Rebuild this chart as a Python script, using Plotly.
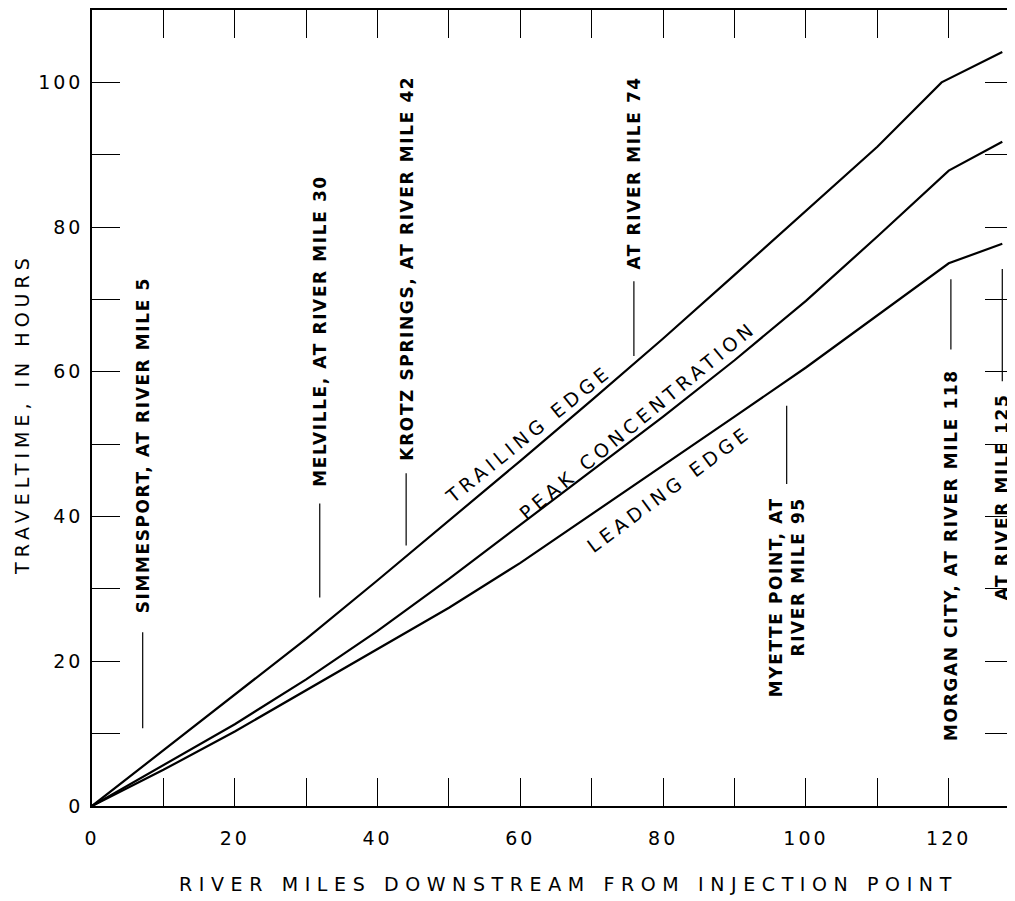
import plotly.graph_objects as go

# ---- data ----
trail_x = [0, 10, 20, 30, 40, 50, 60, 70, 76, 80, 90, 100, 110, 119, 127.5]
trail_y = [0, 7.7, 15.3, 23.1, 31.2, 39.4, 47.7, 56.1, 61.2, 64.6, 73.4, 82.3, 91.1, 100, 104.2]

peak_x = [0, 10, 20, 30, 40, 50, 60, 70, 80, 90, 100, 110, 120, 127.5]
peak_y = [0, 5.6, 11.3, 17.5, 24.2, 31.4, 38.9, 46.3, 53.8, 61.6, 69.8, 78.7, 87.8, 91.8]

lead_x = [0, 10, 20, 30, 40, 50, 60, 70, 80, 90, 100, 110, 120, 127.5]
lead_y = [0, 5.0, 10.3, 16.0, 21.7, 27.4, 33.6, 40.3, 47.0, 53.8, 60.6, 67.8, 75.0, 77.7]

station_names = [
    "SIMMESPORT, AT RIVER MILE 5",
    "MELVILLE, AT RIVER MILE 30",
    "KROTZ SPRINGS, AT RIVER MILE 42",
    "AT RIVER MILE 74",
    "MYETTE POINT, AT<br>RIVER MILE 95",
    "MORGAN CITY, AT RIVER MILE 118",
    "AT RIVER MILE 125",
]
station_x = [7.1, 31.9, 44.0, 75.9, 97.3, 120.3, 127.5]

x_ticks = list(range(0, 130, 10))
y_ticks = list(range(0, 110, 10))

x_title = "RIVER MILES DOWNSTREAM FROM INJECTION POINT"
y_title = "TRAVELTIME, IN HOURS"
curve_names = ["TRAILING EDGE", "PEAK CONCENTRATION", "LEADING EDGE"]

# ---- layout helpers (placement only) ----
leader_lo = [10.75, 28.8, 36.0, 62.2, 44.5, 63.1, 58.7]
leader_hi = [24.0, 41.8, 46.0, 72.5, 55.3, 72.8, 74.2]
label_y = [26.3, 43.8, 47.4, 73.9, 42.9, 8.7, 28.1]
label_anchor = ["bottom", "bottom", "bottom", "bottom", "top", "bottom", "bottom"]

curve_label_pos = [(61.1, 51.4, -39), (76.5, 53.3, -39.5), (80.8, 43.8, -36.5)]

FONT = "DejaVu Sans, Verdana, sans-serif"


def spaced(t, px):
    return f'<span style="letter-spacing:{px}px">{t}</span>'


fig = go.Figure()
for xs, ys in [(trail_x, trail_y), (peak_x, peak_y), (lead_x, lead_y)]:
    fig.add_trace(go.Scatter(x=xs, y=ys, mode="lines",
                             line=dict(color="black", width=2.2),
                             showlegend=False, hoverinfo="skip"))

for sx, lo, hi in zip(station_x, leader_lo, leader_hi):
    fig.add_trace(go.Scatter(x=[sx, sx], y=[lo, hi], mode="lines",
                             line=dict(color="black", width=1.2),
                             showlegend=False, hoverinfo="skip"))

annotations = []
for name, sx, ly, anc in zip(station_names, station_x, label_y, label_anchor):
    annotations.append(dict(
        x=sx, y=ly, xref="x", yref="y", text=spaced(name, 1.6),
        showarrow=False, textangle=-90, xanchor="center", yanchor=anc,
        align="right",
        font=dict(family=FONT, size=17, color="black", weight="bold"),
    ))

for name, (cx, cy, ang) in zip(curve_names, curve_label_pos):
    annotations.append(dict(
        x=cx, y=cy, xref="x", yref="y", text=spaced(name, 4.5),
        showarrow=False, textangle=ang, xanchor="center", yanchor="middle",
        font=dict(family=FONT, size=19, color="black"),
    ))

annotations.append(dict(
    x=0.517, y=-0.0977, xref="paper", yref="paper", text=spaced(x_title, 6.6),
    showarrow=False, xanchor="center", yanchor="middle",
    font=dict(family=FONT, size=19, color="black"),
))
annotations.append(dict(
    x=-0.076, y=0.4925, xref="paper", yref="paper", text=spaced(y_title, 5),
    showarrow=False, textangle=-90, xanchor="center", yanchor="middle",
    font=dict(family=FONT, size=19, color="black"),
))

axis_common = dict(
    showgrid=False, zeroline=False, showline=True, linecolor="black",
    linewidth=1.5, mirror="allticks", ticks="inside", ticklen=28,
    tickwidth=1.3, tickcolor="black",
    tickfont=dict(family=FONT, size=19, color="black"),
)

fig.update_layout(
    width=1007, height=893,
    margin=dict(l=84, r=2, t=0, b=95),
    paper_bgcolor="white", plot_bgcolor="white",
    xaxis=dict(range=[0, 129], tickvals=x_ticks,
               ticktext=[spaced(str(v), 3) if v % 20 == 0 else "" for v in x_ticks],
               ticklabelstandoff=14, **axis_common),
    yaxis=dict(range=[0, 110], tickvals=y_ticks,
               ticktext=[spaced(str(v), 3) if v % 20 == 0 else "" for v in y_ticks],
               ticklabelstandoff=3, **axis_common),
    annotations=annotations,
)

fig.write_html("out.html")
